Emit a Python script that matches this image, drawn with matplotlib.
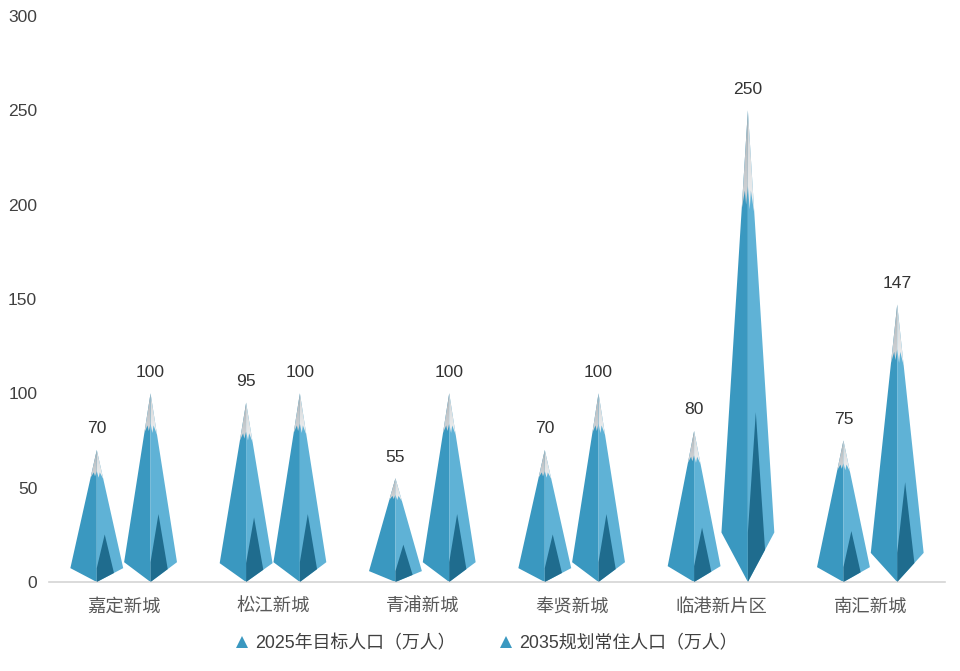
"""Pyramid column chart of new-town population targets."""
import matplotlib

matplotlib.use("Agg")
import matplotlib.pyplot as plt
import numpy as np
from matplotlib.colors import to_rgb
from matplotlib.lines import Line2D
from matplotlib.patches import Polygon

plt.rcParams["font.family"] = ["Liberation Sans", "Noto Sans CJK SC"]

categories = ["嘉定新城", "松江新城", "青浦新城", "奉贤新城", "临港新片区", "南汇新城"]
target_2025 = [70, 95, 55, 70, 80, 75]
plan_2035 = [100, 100, 100, 100, 250, 147]
series_names = ["2025年目标人口（万人）", "2035规划常住人口（万人）"]
y_ticks = [0, 50, 100, 150, 200, 250, 300]

# pyramid shape, all heights as a fraction of the bar value
HALF_WIDTH = 0.177
OFFSET = 0.18
CORNER = 0.105
INNER_TOP = 0.36
LEFT_FACE = "#3a98c0"
RIGHT_FACE = "#5fb2d6"
INNER_FACE = "#1f6c8e"
SNOW_LEFT = [(-1.0, 0.79), (-0.6, 0.83), (-0.3, 0.80), (0.0, 0.84)]
SNOW_RIGHT = [(0.0, 0.84), (0.3, 0.79), (0.6, 0.83), (1.0, 0.78)]


def edge(f):
    return HALF_WIDTH * (1 - f) / (1 - CORNER)


def gradient_fill(ax, verts, top, bottom):
    xs, ys = zip(*verts)
    ramp = np.linspace(0, 1, 64)[:, None, None]
    img = (1 - ramp) * np.array(to_rgb(top)) + ramp * np.array(to_rgb(bottom))
    im = ax.imshow(
        img,
        extent=(min(xs), max(xs), min(ys), max(ys)),
        origin="upper",
        aspect="auto",
        zorder=4,
        interpolation="bilinear",
    )
    im.set_clip_path(Polygon(verts, transform=ax.transData))


def draw_pyramid(ax, x, v):
    corner = CORNER * v
    ax.fill([x, x - HALF_WIDTH, x], [0, corner, v], color=LEFT_FACE, lw=0, zorder=2)
    ax.fill([x, x + HALF_WIDTH, x], [0, corner, v], color=RIGHT_FACE, lw=0, zorder=2)
    inner_x = x + 0.3 * HALF_WIDTH
    ax.fill(
        [x, x, inner_x, x + 0.65 * HALF_WIDTH],
        [0, corner, INNER_TOP * v, corner * 0.65],
        color=INNER_FACE,
        lw=0,
        zorder=3,
    )
    left = [(x, v)] + [(x + a * edge(f), f * v) for a, f in SNOW_LEFT]
    right = [(x, v)] + [(x + a * edge(f), f * v) for a, f in SNOW_RIGHT]
    gradient_fill(ax, left, "#aeb4b8", "#d3d6d9")
    gradient_fill(ax, right, "#cfd2d4", "#f0f1f2")


fig = plt.figure(figsize=(9.6, 6.71), dpi=100)
ax = fig.add_axes([49 / 960, 1 - 582 / 671, 896 / 960, 566 / 671])

for i, (a, b) in enumerate(zip(target_2025, plan_2035)):
    for x, v in ((i - OFFSET, a), (i + OFFSET, b)):
        draw_pyramid(ax, x, v)
        ax.annotate(
            str(v),
            (x, v),
            xytext=(0, 15.2),
            textcoords="offset points",
            ha="center",
            va="center",
            fontsize=12.6,
            color="#333333",
        )

ax.set_xlim(-0.5, 5.5)
ax.set_ylim(0, 300)
ax.set_yticks(y_ticks)
ax.set_xticks(range(len(categories)))
ax.set_xticklabels(categories, fontsize=13.2, color="#595959")
ax.tick_params(axis="y", length=0, pad=8.5, labelsize=12.6, labelcolor="#404040")
ax.tick_params(axis="x", length=0, pad=12)
for side in ("top", "left", "right"):
    ax.spines[side].set_visible(False)
ax.spines["bottom"].set_color("#d4d4d4")
ax.spines["bottom"].set_linewidth(1.2)

handles = [
    Line2D([], [], ls="none", marker="^", ms=8, color=LEFT_FACE, mew=0) for _ in series_names
]
fig.legend(
    handles,
    series_names,
    ncol=2,
    frameon=False,
    loc="center left",
    bbox_to_anchor=(217 / 960, 1 - 644 / 671),
    fontsize=12.9,
    labelcolor="#404040",
    handlelength=1,
    handletextpad=0.25,
    columnspacing=2.3,
)

fig.savefig("out.png", dpi=100)
